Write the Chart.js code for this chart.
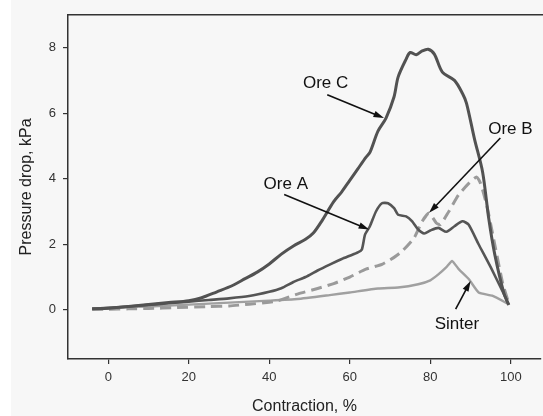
<!DOCTYPE html>
<html>
<head>
<meta charset="utf-8">
<script src="https://cdn.jsdelivr.net/npm/chart.js@4/dist/chart.umd.min.js"></script>
<style>
  html, body { margin: 0; padding: 0; background: #ffffff; }
  #wrap { width: 543px; height: 416px; }
</style>
</head>
<body>
<div id="wrap"><canvas id="pressureChart"></canvas></div>
<script>
// values
const oreCX = [-4, 0, 5, 10, 15, 20, 23, 27, 31, 34, 37, 40, 43, 46, 49, 51, 53, 56, 58, 60, 62, 64, 65, 67, 69, 71, 72, 74, 75, 76.5, 78, 79.5, 81, 83, 86, 88, 89, 91, 93, 94.5, 96, 98.3, 99.5];
const oreCY = [0.03, 0.05, 0.1, 0.16, 0.22, 0.28, 0.36, 0.55, 0.75, 0.95, 1.15, 1.4, 1.7, 1.95, 2.15, 2.35, 2.7, 3.3, 3.6, 3.95, 4.3, 4.65, 4.8, 5.45, 5.85, 6.5, 7.1, 7.65, 7.85, 7.78, 7.9, 7.95, 7.8, 7.25, 7.0, 6.6, 6.3, 5.2, 4.2, 2.8, 1.7, 0.5, 0.15];

const oreAX = [-4, 0, 5, 10, 15, 20, 25, 30, 35, 40, 43, 46, 49, 52, 55, 58, 60, 62, 63, 63.8, 65, 66.5, 68, 69.5, 71, 72, 74, 75.5, 77, 78.5, 80, 82, 84, 86, 88, 89.5, 92, 95, 98, 99.5];
const oreAY = [0.03, 0.06, 0.1, 0.15, 0.2, 0.25, 0.3, 0.35, 0.42, 0.55, 0.66, 0.85, 1.0, 1.2, 1.38, 1.55, 1.65, 1.75, 1.84, 2.3, 2.55, 3.0, 3.25, 3.25, 3.1, 2.9, 2.85, 2.7, 2.45, 2.33, 2.42, 2.5, 2.38, 2.55, 2.7, 2.6, 2.0, 1.3, 0.55, 0.15];

const oreBX = [-4, 0, 5, 10, 17, 25, 30, 35, 40, 42, 47, 52, 56, 60, 64, 68, 71, 73, 76, 78, 79.7, 81.5, 82.5, 84.6, 87, 89.5, 91.5, 92.5, 94, 96, 98, 99.5];
const oreBY = [0.02, 0.02, 0.03, 0.04, 0.07, 0.1, 0.12, 0.17, 0.23, 0.27, 0.48, 0.65, 0.8, 1.0, 1.24, 1.39, 1.6, 1.79, 2.2, 2.7, 2.95, 2.65, 2.6, 3.0, 3.5, 3.85, 4.05, 3.85, 3.2, 2.0, 0.8, 0.2];

const sinterX = [-4, 0, 5, 10, 20, 30, 40, 47, 55, 60, 67, 72, 77, 80, 82, 84, 85.4, 87, 89.6, 92, 95.4, 99.5];
const sinterY = [0.03, 0.05, 0.08, 0.1, 0.16, 0.22, 0.28, 0.33, 0.45, 0.53, 0.65, 0.68, 0.78, 0.9, 1.08, 1.3, 1.49, 1.25, 0.93, 0.53, 0.43, 0.17];

const xTicks = [0, 20, 40, 60, 80, 100];
const yTicks = [0, 2, 4, 6, 8];

// labels with arrows, in data units: text position, arrow start, arrow tip
const noteText = ["Ore C", "Ore A", "Ore B", "Sinter"];
const noteAt = [[54.0, 6.91], [44.1, 3.84], [99.9, 5.51], [86.6, -0.43]];
const noteFrom = [[54.4, 6.56], [43.7, 3.52], [97.4, 5.24], [86.3, 0.02]];
const noteTo = [[68.5, 5.85], [64.8, 2.45], [79.7, 2.96], [90.0, 0.88]];

function pts(xs, ys) {
  return xs.map((x, i) => ({ x: x, y: ys[i] }));
}

const FONT = "'Liberation Sans', Arial, sans-serif";

const frameAndNotes = {
  id: "frameAndNotes",
  beforeDraw(chart) {
    const c = chart.ctx;
    c.save();
    c.fillStyle = "#f7f7f7";
    c.fillRect(11, 0, chart.width - 11, chart.height);
    c.restore();
  },
  afterDraw(chart) {
    const c = chart.ctx;
    const xs = chart.scales.x;
    const ys = chart.scales.y;
    const a = chart.chartArea;
    c.save();
    // top frame line
    c.strokeStyle = "#333";
    c.lineWidth = 1.5;
    c.beginPath();
    c.moveTo(a.left, a.top);
    c.lineTo(a.right + 2, a.top);
    c.stroke();

    c.fillStyle = "#111";
    c.strokeStyle = "#111";
    c.font = "17px " + FONT;
    c.textAlign = "center";
    c.textBaseline = "middle";
    noteText.forEach((t, i) => {
      c.fillText(t, xs.getPixelForValue(noteAt[i][0]), ys.getPixelForValue(noteAt[i][1]));
      const x1 = xs.getPixelForValue(noteFrom[i][0]);
      const y1 = ys.getPixelForValue(noteFrom[i][1]);
      const x2 = xs.getPixelForValue(noteTo[i][0]);
      const y2 = ys.getPixelForValue(noteTo[i][1]);
      const ang = Math.atan2(y2 - y1, x2 - x1);
      const head = 11;
      c.lineWidth = 1.6;
      c.beginPath();
      c.moveTo(x1, y1);
      c.lineTo(x2 - Math.cos(ang) * head * 0.8, y2 - Math.sin(ang) * head * 0.8);
      c.stroke();
      c.beginPath();
      c.moveTo(x2, y2);
      c.lineTo(x2 - head * Math.cos(ang - 0.3), y2 - head * Math.sin(ang - 0.3));
      c.lineTo(x2 - head * Math.cos(ang + 0.3), y2 - head * Math.sin(ang + 0.3));
      c.closePath();
      c.fill();
    });
    c.restore();
  }
};

const ctx = document.getElementById("pressureChart").getContext("2d");
const chart = new Chart(ctx, {
  type: "line",
  data: {
    datasets: [
      {
        label: "Ore C",
        data: pts(oreCX, oreCY),
        borderColor: "#525252",
        borderWidth: 3,
        tension: 0.3,
      },
      {
        label: "Ore A",
        data: pts(oreAX, oreAY),
        borderColor: "#555555",
        borderWidth: 2.6,
        tension: 0.2,
      },
      {
        label: "Ore B",
        data: pts(oreBX, oreBY),
        borderColor: "#9a9a9a",
        borderWidth: 3,
        borderDash: [11, 6],
        tension: 0.2,
      },
      {
        label: "Sinter",
        data: pts(sinterX, sinterY),
        borderColor: "#a0a0a0",
        borderWidth: 2.4,
        tension: 0.15,
      },
    ],
  },
  options: {
    responsive: true,
    maintainAspectRatio: false,
    animation: false,
    events: [],
    layout: { padding: { left: 0, top: 12, right: 2, bottom: 0 } },
    elements: { point: { radius: 0 }, line: { borderCapStyle: "butt", borderJoinStyle: "round" } },
    plugins: { legend: { display: false }, tooltip: { enabled: false } },
    scales: {
      x: {
        type: "linear",
        min: -10,
        max: 107.5,
        afterBuildTicks: (s) => { s.ticks = xTicks.map((v) => ({ value: v })); },
        afterFit: (s) => { s.height = 57; },
        grid: { display: true, drawOnChartArea: false, drawTicks: true, tickLength: 5, color: "#333", lineWidth: 1.2 },
        border: { display: true, color: "#333", width: 1.5 },
        ticks: { color: "#333", font: { size: 13, family: FONT }, padding: 6, maxRotation: 0 },
        title: { display: true, text: "Contraction, %", color: "#222", font: { size: 16, family: FONT }, padding: { top: 0, bottom: 0 } },
      },
      y: {
        type: "linear",
        min: -1.5,
        max: 9,
        afterBuildTicks: (s) => { s.ticks = yTicks.map((v) => ({ value: v })); },
        afterFit: (s) => { s.width = 68; },
        grid: { display: true, drawOnChartArea: false, drawTicks: true, tickLength: 5, color: "#333", lineWidth: 1.2 },
        border: { display: true, color: "#333", width: 1.5 },
        ticks: { color: "#333", font: { size: 13, family: FONT }, padding: 7 },
        title: { display: true, text: "Pressure drop, kPa", color: "#222", font: { size: 16, family: FONT }, padding: { top: 17, bottom: 0 } },
      },
    },
  },
  plugins: [frameAndNotes],
});
</script>
</body>
</html>
